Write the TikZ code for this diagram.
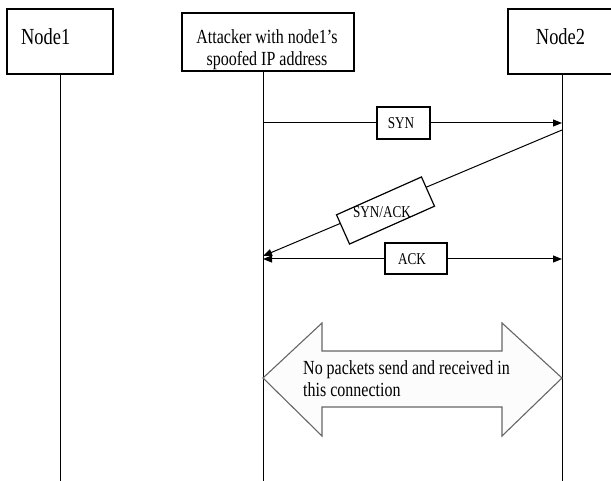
\documentclass[tikz,border=0pt]{standalone}
\usepackage{fontspec}
\setmainfont[FakeStretch=0.8]{Liberation Serif}
\usetikzlibrary{arrows.meta}
\begin{document}
\begin{tikzpicture}[x=1pt,y=-1pt,
  box/.style={draw=black,line width=1.2pt,fill=white,inner sep=0pt},
  life/.style={draw=black,line width=0.9pt},
  msg/.style={draw=black,line width=1pt},
  tip/.style={-{Triangle[length=9pt,width=7pt]}},
  bigfont/.style={font=\fontsize{20}{22}\selectfont},
  namefont/.style={font=\fontsize{23}{26}\selectfont},
  smallfont/.style={font=\fontsize{16.5}{18}\selectfont},
  txt/.style={inner sep=0pt}]
\useasboundingbox (0,0) rectangle (611,481);
% participant boxes
\node[box,minimum width=106pt,minimum height=65pt] (n1) at (60,41.5) {};
\node[txt,namefont,anchor=base west] (n1t) at (21,45) {Node1};
\node[box,minimum width=172pt,minimum height=58pt] (att) at (268,42) {};
\node[txt,bigfont,align=center] (attt) at (267,49.3) {Attacker with node1's\\spoofed IP address};
\node[box,minimum width=107pt,minimum height=65pt] (n2) at (561.5,41.5) {};
\node[txt,namefont,anchor=base] (n2t) at (560.5,44.5) {Node2};
% lifelines
\coordinate (l1top) at (60,74);
\coordinate (l1bot) at (60,481);
\coordinate (latop) at (263,71);
\coordinate (labot) at (263,481);
\coordinate (l2top) at (562,74);
\coordinate (l2bot) at (562,481);
\draw[life] (l1top) -- (l1bot);
\draw[life] (latop) -- (labot);
\draw[life] (l2top) -- (l2bot);
% SYN
\coordinate (synA) at (263,123);
\coordinate (synB) at (562,123);
\draw[msg,tip] (synA) -- (synB);
\node[box,minimum width=53pt,minimum height=32pt] (synbox) at (403.5,123) {};
\node[txt,smallfont] (synt) at (401,123) {SYN};
% SYN/ACK
\coordinate (saA) at (562,130);
\coordinate (saB) at (263,256);
\draw[msg,tip] (saA) -- (saB);
\node[box,rotate=24,minimum width=93pt,minimum height=32pt] (sabox) at (385.5,210.5) {};
\node[txt,smallfont] (sat) at (382,212) {SYN/ACK};
% ACK
\coordinate (ackA) at (263,259);
\coordinate (ackB) at (562,259);
\draw[msg,{Triangle[length=9pt,width=7pt]}-{Triangle[length=9pt,width=7pt]}] (ackA) -- (ackB);
\node[box,minimum width=62pt,minimum height=31pt] (ackbox) at (416,258.5) {};
\node[txt,smallfont] (ackt) at (412,259) {ACK};
% big double arrow
\draw[draw=black!60,line width=1.1pt,fill=black!1,line join=miter]
  (263,378) -- (322,323) -- (322,351) -- (502,351) -- (502,323) -- (562,378)
  -- (502,436) -- (502,407) -- (322,407) -- (322,436) -- cycle;
\node[txt,bigfont,align=left,anchor=west] (bigt) at (303,379) {No packets send and received in\\this connection};
\end{tikzpicture}
\end{document}
